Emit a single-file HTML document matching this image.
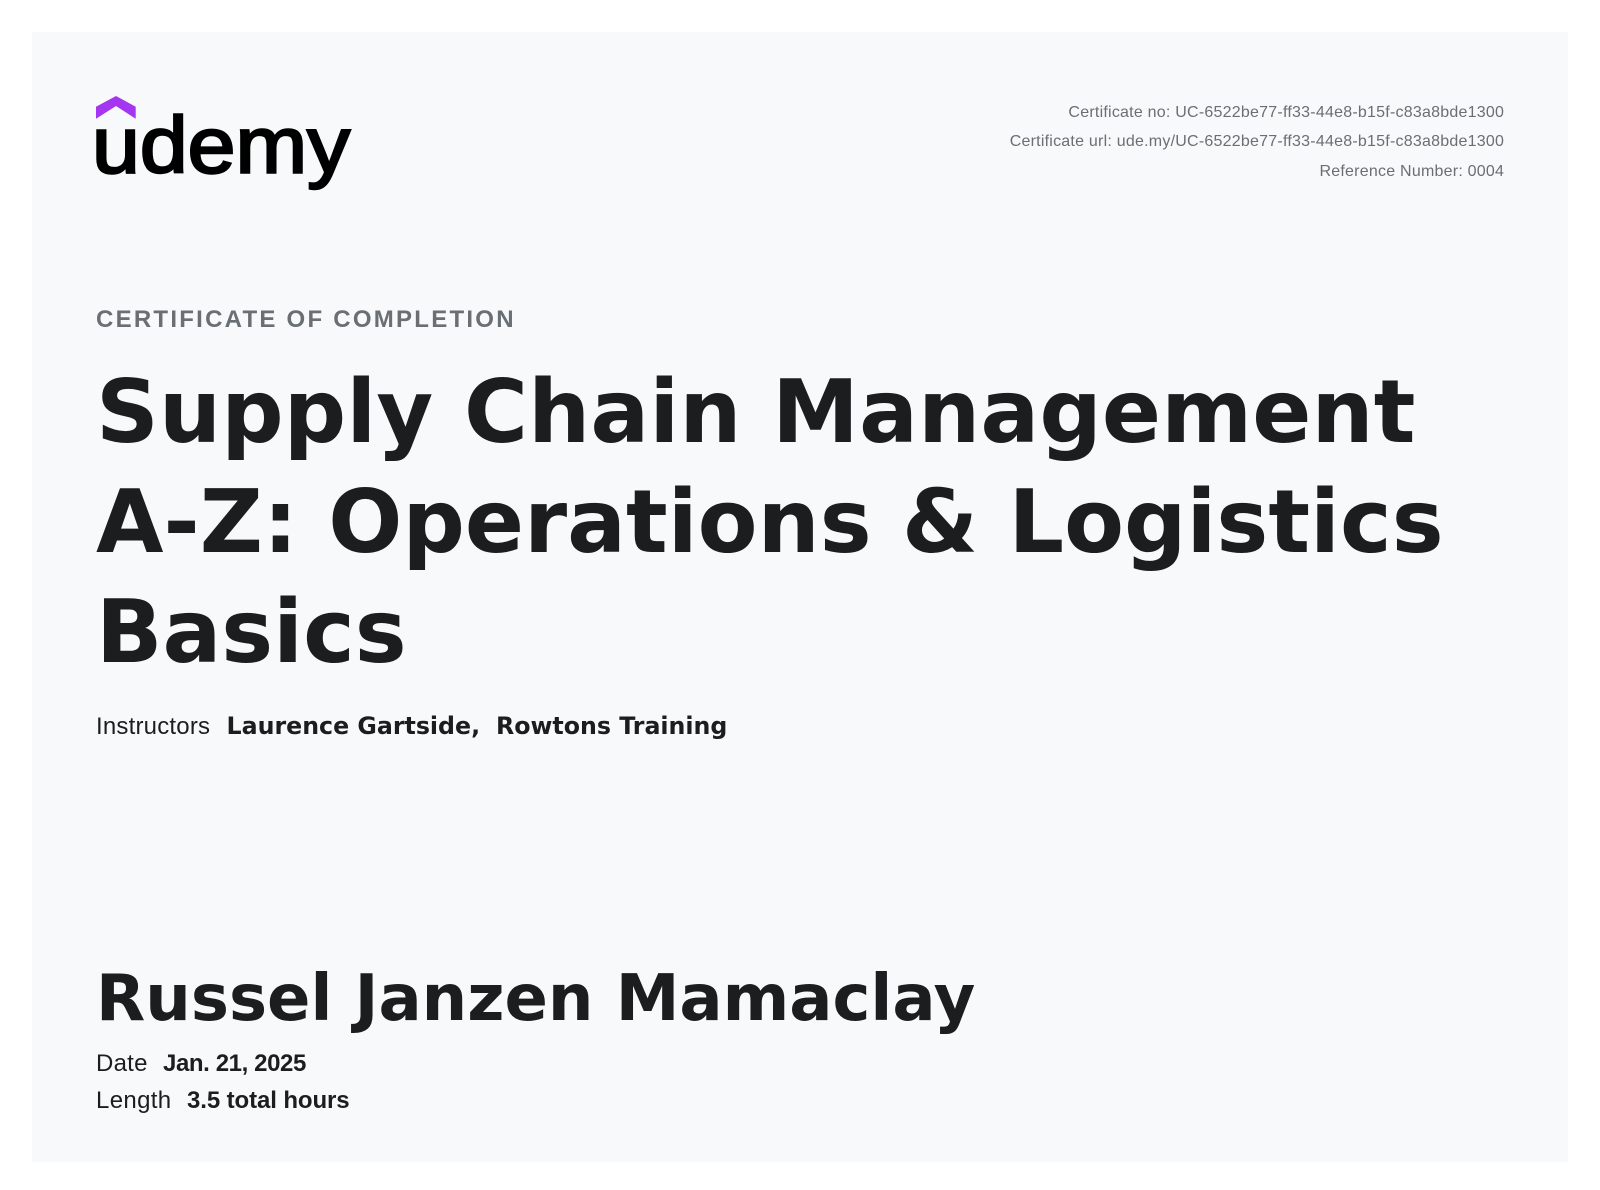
<!DOCTYPE html>
<html lang="en">
<head>
<meta charset="utf-8">
<title>Udemy Certificate of Completion</title>
<style>
html,body{margin:0;padding:0;background:#fff;width:1600px;height:1190px;overflow:hidden}
svg{display:block}
.sans{font-family:"Liberation Sans",sans-serif}
.deja{font-family:"DejaVu Sans",sans-serif;font-weight:700;fill:#1c1d1f}
.meta{font-size:16px;fill:#6a6f73;text-anchor:end;letter-spacing:.23px}
.body{font-size:24px;fill:#1c1d1f}
.bold{font-size:24px;font-weight:700;fill:#1c1d1f}
</style>
</head>
<body>
<svg width="1600" height="1190" viewBox="0 0 1600 1190" xmlns="http://www.w3.org/2000/svg">
  <rect x="32" y="32" width="1536" height="1130" fill="#f7f9fa"/>
  <g>
    <polygon points="116,96 135.7,106.7 135.7,118.7 116,106 96,118.7 96,106.7" fill="#a435f0"/>
    <text transform="translate(92,172.5) scale(1.075,1)" class="sans" font-size="80" fill="#000" stroke="#000" stroke-width="2.4">udemy</text>
  </g>
  <text x="1504.2" y="117" class="sans meta">Certificate no: UC-6522be77-ff33-44e8-b15f-c83a8bde1300</text>
  <text x="1504.2" y="146" class="sans meta">Certificate url: ude.my/UC-6522be77-ff33-44e8-b15f-c83a8bde1300</text>
  <text x="1504.2" y="176" class="sans meta">Reference Number: 0004</text>
  <text x="96" y="327" class="sans" font-size="24" font-weight="700" letter-spacing="2.25" fill="#6a6f73">CERTIFICATE OF COMPLETION</text>
  <g>
    <text x="96" y="442" class="deja" font-size="87.2" letter-spacing=".17">Supply Chain Management</text>
    <text x="96" y="552" class="deja" font-size="87.2" letter-spacing=".04">A-Z: Operations &amp; Logistics</text>
    <text x="96" y="662" class="deja" font-size="87.2">Basics</text>
  </g>
  <text x="96" y="734" class="sans body" letter-spacing=".2">Instructors</text>
  <text x="226.5" y="734" class="deja" font-size="23.7">Laurence Gartside,</text>
  <text x="496" y="734" class="deja" font-size="23.7">Rowtons Training</text>
  <text x="96" y="1020" class="deja" font-size="64">Russel Janzen Mamaclay</text>
  <text x="96" y="1071" class="sans body" letter-spacing=".25">Date</text>
  <text x="163" y="1071" class="sans bold" letter-spacing="-.4">Jan. 21, 2025</text>
  <text x="96" y="1108" class="sans body" letter-spacing=".35">Length</text>
  <text x="187" y="1108" class="sans bold" letter-spacing="-.1">3.5 total hours</text>
</svg>
</body>
</html>
